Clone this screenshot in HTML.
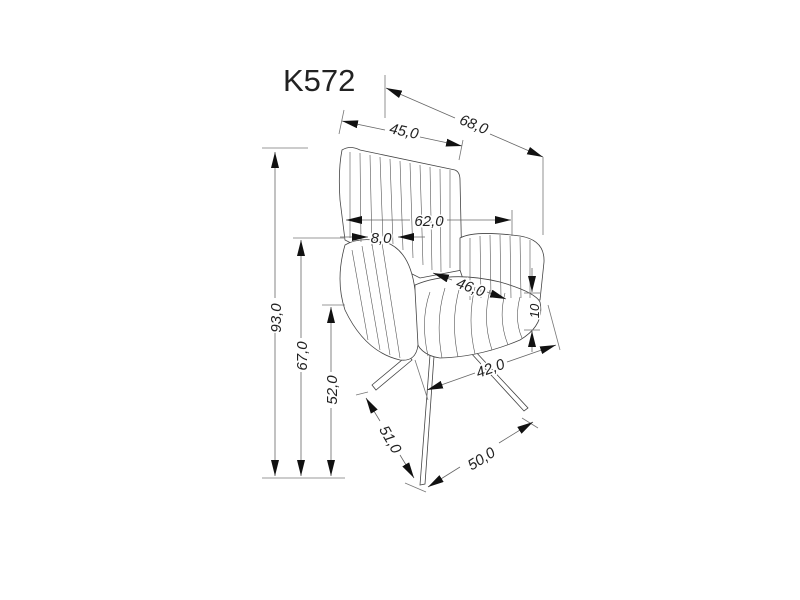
<!DOCTYPE html>
<html><head><meta charset="utf-8"><style>
html,body{margin:0;padding:0;background:#fff;}
svg{display:block;}
text{font-family:"Liberation Sans",sans-serif;fill:#222;font-style:italic;paint-order:stroke;stroke:#fff;stroke-width:3px;}
</style></head><body>
<svg width="800" height="600" viewBox="0 0 800 600" xmlns="http://www.w3.org/2000/svg">
<defs>
<marker id="b" viewBox="0 0 16 8" refX="16" refY="4" markerWidth="16" markerHeight="8" orient="auto-start-reverse" markerUnits="userSpaceOnUse"><path d="M0,0L16,4L0,8z" fill="#111"/></marker>
</defs>
<text x="283" y="91" font-size="31" style="font-style:normal">K572</text>

<!-- chair -->
<g stroke="#444" stroke-width="0.8" fill="#fff">
<path d="M372,385 L408,355 L412,360 L376,390 Z"/>
<path d="M430,355 L434,356 L425,484 L420,485 Z"/>
<path d="M470,352 L474,350 L528,408 L524,411 Z"/>
<path d="M342,150 Q350,145 360,150 L455,170 Q460,172 460,180 L462,270 L420,278 L345,240 L340,200 Q338,170 342,150 Z"/>
<path d="M460,238 Q475,230 520,236 Q545,240 544,262 L540,300 L470,300 L460,270 Z"/>
<path d="M415,285 Q450,270 500,282 Q535,292 540,302 Q545,325 520,340 Q480,357 440,358 Q418,355 414,335 Z"/>
<path d="M345,245 Q360,236 385,242 Q410,250 415,290 L418,345 Q416,362 400,360 Q365,352 345,310 Q335,280 345,245 Z"/>
</g>
<g stroke="#555" stroke-width="0.6" fill="none">
<path d="M350,152 L350,238 M360,153 L361,242 M370,155 L372,246 M380,157 L383,240 M390,159 L393,244 M400,161 L403,250 M410,163 L413,258 M420,165 L423,265 M430,167 L432,270 M440,169 L441,272 M450,170 L450,268"/>
<path d="M470,238 L470,300 M480,236 L481,298 M490,235 L491,298 M500,235 L501,298 M510,236 L511,298 M520,237 L521,298 M530,240 L530,298"/>
<path d="M430,292 Q420,320 428,356 M445,288 Q435,320 442,358 M460,286 Q450,320 458,357 M475,287 Q467,320 475,354 M490,290 Q482,320 492,350 M505,293 Q498,320 508,345 M520,297 Q514,320 522,338"/>
<path d="M352,250 L368,340 M362,246 L380,350 M372,244 L390,355 M382,243 L400,358"/>
</g>

<g stroke="#777" stroke-width="0.8" fill="none">
<line x1="262" y1="148" x2="308" y2="148"/>
<line x1="262" y1="478" x2="345" y2="478"/>
<line x1="293" y1="238" x2="345" y2="238"/>
<line x1="322" y1="305" x2="345" y2="305"/>
<line x1="385" y1="75" x2="385" y2="118"/>
<line x1="543" y1="157" x2="543" y2="235"/>
<line x1="344" y1="110" x2="339" y2="134"/>
<line x1="463" y1="140" x2="459" y2="160"/>
<line x1="512" y1="210" x2="512" y2="236"/>
<line x1="524" y1="293" x2="540" y2="293"/>
<line x1="524" y1="330" x2="540" y2="330"/>
<line x1="548" y1="305" x2="560" y2="350"/>
<line x1="415" y1="360" x2="428" y2="400"/>
<line x1="356" y1="395" x2="368" y2="392"/>
<line x1="405" y1="483" x2="426" y2="492"/>
<line x1="522" y1="418" x2="538" y2="428"/>
</g>

<g stroke="#666" stroke-width="0.8" fill="none">
<line x1="275" y1="152" x2="275" y2="298" marker-start="url(#b)"/>
<line x1="275" y1="330" x2="275" y2="476" marker-end="url(#b)"/>
<line x1="301" y1="240" x2="301" y2="338" marker-start="url(#b)"/>
<line x1="301" y1="372" x2="301" y2="476" marker-end="url(#b)"/>
<line x1="331" y1="307" x2="331" y2="372" marker-start="url(#b)"/>
<line x1="331" y1="408" x2="331" y2="476" marker-end="url(#b)"/>
<line x1="342" y1="121" x2="385" y2="130" marker-start="url(#b)"/>
<line x1="420" y1="137" x2="462" y2="146" marker-end="url(#b)"/>
<line x1="386" y1="88" x2="455" y2="118" marker-start="url(#b)"/>
<line x1="490" y1="134" x2="543" y2="157" marker-end="url(#b)"/>
<line x1="346" y1="220" x2="410" y2="220" marker-start="url(#b)"/>
<line x1="447" y1="220" x2="511" y2="220" marker-end="url(#b)"/>
<line x1="340" y1="237" x2="368" y2="237" marker-end="url(#b)"/>
<line x1="425" y1="237" x2="398" y2="237" marker-end="url(#b)"/>
<line x1="433" y1="273" x2="452" y2="280" marker-start="url(#b)"/>
<line x1="487" y1="292" x2="506" y2="299" marker-end="url(#b)"/>
<line x1="532" y1="268" x2="532" y2="292" marker-end="url(#b)"/>
<line x1="532" y1="352" x2="532" y2="331" marker-end="url(#b)"/>
<line x1="427" y1="390" x2="475" y2="373" marker-start="url(#b)"/>
<line x1="507" y1="362" x2="556" y2="345" marker-end="url(#b)"/>
<line x1="366" y1="398" x2="380" y2="421" marker-start="url(#b)"/>
<line x1="400" y1="455" x2="414" y2="478" marker-end="url(#b)"/>
<line x1="428" y1="487" x2="460" y2="467" marker-start="url(#b)"/>
<line x1="499" y1="443" x2="533" y2="422" marker-end="url(#b)"/>
</g>

<g font-size="15">
<text transform="translate(281,318) rotate(-90)" text-anchor="middle">93,0</text>
<text transform="translate(307,356) rotate(-90)" text-anchor="middle">67,0</text>
<text transform="translate(337,390) rotate(-90)" text-anchor="middle">52,0</text>
<text transform="translate(403,136) rotate(12)" text-anchor="middle">45,0</text>
<text transform="translate(472,129) rotate(22)" text-anchor="middle">68,0</text>
<text x="429" y="226" text-anchor="middle">62,0</text>
<text x="381" y="243" text-anchor="middle">8,0</text>
<text transform="translate(469,292) rotate(20)" text-anchor="middle">46,0</text>
<text transform="translate(539,311) rotate(-90)" text-anchor="middle" font-size="13">10</text>
<text transform="translate(492,373) rotate(-20)" text-anchor="middle">42,0</text>
<text transform="translate(386,442) rotate(60)" text-anchor="middle">51,0</text>
<text transform="translate(484,463) rotate(-32)" text-anchor="middle">50,0</text>
</g>
</svg>
</body></html>
